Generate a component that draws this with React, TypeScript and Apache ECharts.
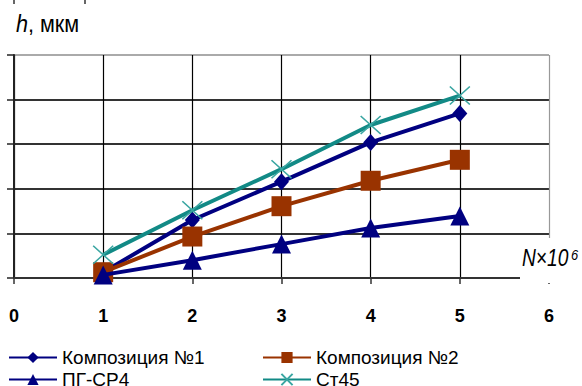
import React, { useEffect, useRef } from "react";
import * as echarts from "echarts";

// Wear depth h (in grid units) versus cycle count N×10^6
const cycles = [1, 2, 3, 4, 5];
const composition1 = [0.13, 1.3, 2.16, 3.04, 3.69];
const composition2 = [0.13, 0.93, 1.61, 2.18, 2.65];
const pgSr4 = [0.07, 0.4, 0.76, 1.12, 1.39];
const st45 = [0.52, 1.52, 2.44, 3.43, 4.09];
const xTicks = [0, 1, 2, 3, 4, 5, 6];

const NAVY = "#000080";
const BROWN = "#993300";
const TEAL = "#128a86";
const FONT = "'Liberation Sans', Arial, sans-serif";

const pairs = (ys: number[]) => cycles.map((x, i) => [x, ys[i]]);

// one legend entry per box, so the two-column layout stays fixed
const legendEntry = (name: string, left: number, top: number) => ({
  left,
  top,
  padding: 0,
  orient: "horizontal",
  itemWidth: 48,
  itemHeight: 14,
  textStyle: { fontFamily: FONT, fontSize: 19, color: "#000" },
  data: [name],
});

export default function App() {
  const ref = useRef<HTMLDivElement>(null);

  useEffect(() => {
    if (!ref.current) return;
    const chart = echarts.init(ref.current, null, { renderer: "svg" });
    chart.setOption({
      animation: false,
      grid: { left: 14, right: 33, top: 55, bottom: 108 },
      xAxis: {
        type: "value",
        min: xTicks[0],
        max: xTicks[xTicks.length - 1],
        interval: 1,
        axisLine: { show: true, lineStyle: { color: "#333", width: 2 } },
        axisTick: { show: true, length: 6, lineStyle: { color: "#333", width: 1.5 } },
        axisLabel: {
          margin: 29,
          fontFamily: FONT,
          fontSize: 18,
          fontWeight: "bold",
          color: "#000",
        },
        splitLine: {
          show: true,
          lineStyle: {
            color: ["#000", "#000", "#000", "#000", "#000", "#000", "#999"],
            width: 1.2,
          },
        },
      },
      yAxis: {
        type: "value",
        min: 0,
        max: 5,
        interval: 1,
        axisLine: { show: true, lineStyle: { color: "#222", width: 2 } },
        axisTick: { show: true, length: 7, lineStyle: { color: "#222", width: 1.5 } },
        axisLabel: { show: false },
        splitLine: {
          show: true,
          lineStyle: {
            color: ["#333", "#333", "#333", "#333", "#333", "#aaa"],
            width: 2,
          },
        },
      },
      legend: [
        legendEntry("Композиция №1", 8, 348),
        legendEntry("ПГ-СР4", 8, 370),
        legendEntry("Композиция №2", 262, 348),
        legendEntry("Ст45", 262, 370),
      ],
      series: [
        {
          name: "Композиция №1",
          type: "line",
          data: pairs(composition1),
          symbol: "diamond",
          symbolSize: [15, 17],
          lineStyle: { color: NAVY, width: 4 },
          itemStyle: { color: NAVY },
          z: 2,
        },
        {
          name: "Композиция №2",
          type: "line",
          data: pairs(composition2),
          symbol: "rect",
          symbolSize: 20,
          lineStyle: { color: BROWN, width: 4 },
          itemStyle: { color: BROWN },
          z: 3,
        },
        {
          name: "ПГ-СР4",
          type: "line",
          data: pairs(pgSr4),
          symbol: "triangle",
          symbolSize: [19, 19],
          lineStyle: { color: NAVY, width: 4 },
          itemStyle: { color: NAVY },
          z: 4,
        },
        {
          name: "Ст45",
          type: "line",
          data: pairs(st45),
          symbol: "path://M0,0L20,18M20,0L0,18",
          symbolSize: [20, 18],
          lineStyle: { color: TEAL, width: 4 },
          itemStyle: { color: "rgba(0,0,0,0)", borderColor: "#3aa6a2", borderWidth: 1.5 },
          z: 5,
        },
      ],
      graphic: [
        {
          type: "rect",
          shape: { x: 520, y: 238, width: 62, height: 45 },
          style: { fill: "#fff" },
          z: 50,
        },
        {
          type: "text",
          x: 522,
          y: 258,
          scaleX: 0.8,
          z: 51,
          style: {
            text: "N×10",
            fontFamily: FONT,
            fontSize: 24,
            fontStyle: "italic",
            fill: "#000",
            verticalAlign: "middle",
          },
        },
        {
          type: "text",
          x: 571,
          y: 255,
          scaleX: 0.86,
          z: 51,
          style: {
            text: "6",
            fontFamily: FONT,
            fontSize: 15,
            fontStyle: "italic",
            fill: "#000",
            verticalAlign: "middle",
          },
        },
        {
          type: "text",
          x: 16,
          y: 24,
          scaleX: 0.9,
          z: 51,
          style: {
            text: "{i|h}, мкм",
            fontFamily: FONT,
            fontSize: 24,
            fill: "#000",
            verticalAlign: "middle",
            rich: { i: { fontStyle: "italic", fontFamily: FONT, fontSize: 24 } },
          },
        },
        {
          type: "line",
          shape: { x1: 14, y1: 0, x2: 14, y2: 4 },
          style: { stroke: "#333", lineWidth: 1.5 },
        },
        {
          type: "line",
          shape: { x1: 85, y1: 0, x2: 85, y2: 4 },
          style: { stroke: "#333", lineWidth: 1.5 },
        },
      ],
    });
    return () => chart.dispose();
  }, []);

  return (
    <div
      ref={ref}
      style={{ position: "fixed", left: 0, top: 0, width: 582, height: 386, background: "#fff" }}
    />
  );
}
